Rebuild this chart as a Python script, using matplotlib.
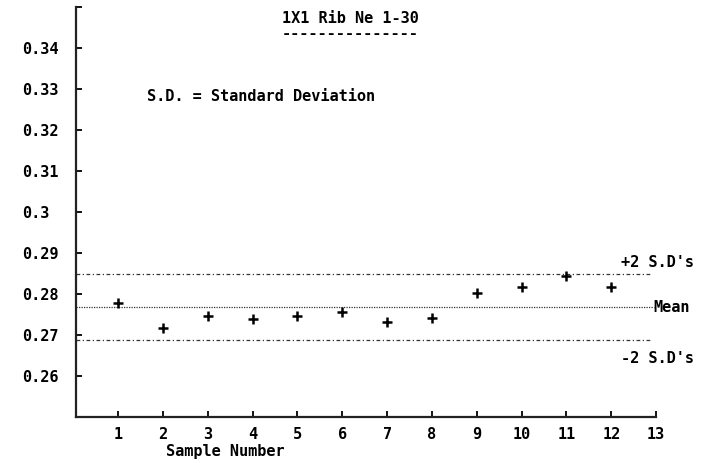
import matplotlib
matplotlib.use("Agg")
import matplotlib.pyplot as plt

# sample readings and control limits
samples = [1, 2, 3, 4, 5, 6, 7, 8, 9, 10, 11, 12]
values = [0.2778, 0.2718, 0.2747, 0.2739, 0.2747, 0.2757,
          0.2731, 0.2741, 0.2802, 0.2816, 0.2843, 0.2817]
mean_val = 0.2768
upper_2sd = 0.2848
lower_2sd = 0.2688
y_ticks = [0.26, 0.27, 0.28, 0.29, 0.30, 0.31, 0.32, 0.33, 0.34, 0.35]
y_labels = ["0.26", "0.27", "0.28", "0.29", "0.3", "0.31", "0.32", "0.33", "0.34", ""]
x_ticks = list(range(1, 14))

plt.rcParams['font.family'] = ['DejaVu Sans Mono']
plt.rcParams['font.weight'] = 'bold'
fs = 11

fig = plt.figure(figsize=(7.07, 4.63), dpi=100)
ax = fig.add_axes([0.1075, 0.0994, 0.8205, 0.8856])

ax.set_xlim(0.06, 13)
ax.set_ylim(0.25, 0.35)

line_col = '#333333'
ax.plot([0.06, 12.9], [upper_2sd, upper_2sd], color=line_col, lw=0.9,
        linestyle=(0, (3, 2, 1, 2)))
ax.plot([0.06, 12.95], [mean_val, mean_val], color=line_col, lw=0.9,
        linestyle=(0, (1, 1)))
ax.plot([0.06, 12.9], [lower_2sd, lower_2sd], color=line_col, lw=0.9,
        linestyle=(0, (3, 2, 1, 2)))

ax.plot(samples, values, linestyle='none', marker='+', color='black',
        markersize=6.5, markeredgewidth=1.8)

for s in ['top', 'right']:
    ax.spines[s].set_visible(False)
for s in ['left', 'bottom']:
    ax.spines[s].set_linewidth(1.6)
    ax.spines[s].set_color('#222222')

ax.set_yticks(y_ticks)
ax.set_yticklabels(y_labels)
for lbl in ax.get_yticklabels():
    lbl.set_horizontalalignment('left')
ax.tick_params(axis='y', direction='in', length=4, width=1.3, pad=39,
               labelsize=fs)
ax.set_xticks(x_ticks)
ax.tick_params(axis='x', direction='in', length=4, width=1.3, pad=7,
               labelsize=fs)

ax.set_xlabel("Sample Number", fontsize=fs, fontweight='bold')
ax.xaxis.set_label_coords(0.257, -0.067)

ax.text(12.95, mean_val, "Mean", fontsize=fs, ha='left', va='center')
ax.text(13.04, 0.2876, "+2 S.D's", fontsize=fs, ha='center', va='center')
ax.text(13.04, 0.2643, "-2 S.D's", fontsize=fs, ha='center', va='center')

ax.text(1.65, 0.3281, "S.D. = Standard Deviation", fontsize=fs, va='center')

ax.text(6.18, 0.3473, "1X1 Rib Ne 1-30", fontsize=fs, ha='center', va='center')
ax.text(6.18, 0.3436, "---------------", fontsize=fs, ha='center', va='center')

fig.savefig("out.png", dpi=100)
